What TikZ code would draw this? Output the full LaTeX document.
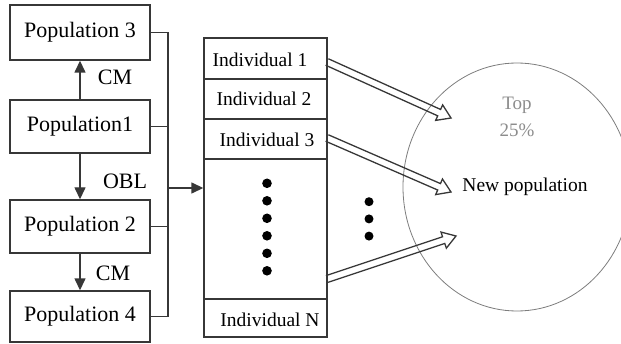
\documentclass[tikz,border=0pt]{standalone}
\usepackage{fontspec}
\setmainfont{Liberation Serif}
\usetikzlibrary{arrows.meta,calc}
\definecolor{ln}{RGB}{55,55,55}
\definecolor{gr}{RGB}{140,140,140}
\definecolor{el}{RGB}{125,125,125}
\newcommand\hollowarr[2]{%
  \draw[harr] let \p1=($(#2)-(#1)$), \n1={atan2(\y1,\x1)}, \n2={veclen(\x1,\y1)-13} in
    ($(#1)+(\n1+90:3.5)$) -- ++(\n1:\n2) -- ++(\n1+90:5) -- (#2)
    -- ($(#2)+(\n1+180:13)+(\n1-90:8.5)$) -- ++(\n1+90:5) -- ($(#1)+(\n1-90:3.5)$);}
\begin{document}
\begin{tikzpicture}[x=1pt,y=1pt,
  box/.style={draw=ln, line width=1.4pt, minimum width=140pt, inner sep=0pt, font=\fontsize{22}{25}\selectfont},
  cell/.style={draw=ln, line width=1.4pt, minimum width=123pt, inner sep=0pt},
  ctext/.style={font=\fontsize{19.5}{22}\selectfont, inner sep=0pt},
  lbl/.style={font=\fontsize{22}{25}\selectfont, inner sep=0pt},
  conn/.style={draw=ln, line width=1.4pt},
  tri/.style={-{Triangle[length=12pt,width=11pt]}},
  harr/.style={draw=ln, line width=1.3pt, line join=miter},
  bigdot/.style={fill=black}
]
\useasboundingbox (0,0) rectangle (621,343);
% left populations
\node[box, minimum height=55pt] (p3) at (80,310.5) {Population 3};
\node[box, minimum height=53pt] (p1) at (80,216.5) {Population1};
\node[box, minimum height=53pt] (p2) at (80,116.5) {Population 2};
\node[box, minimum height=51pt] (p4) at (80,26.5) {Population 4};
\draw[conn,tri] (p1.north) -- (p3.south);
\draw[conn,tri] (p1.south) -- (p2.north);
\draw[conn,tri] (p2.south) -- (p4.north);
\node[lbl] (cm1) at (115,266) {CM};
\node[lbl] (obl) at (125,162) {OBL};
\node[lbl] (cm2) at (113,70) {CM};
% bus
\coordinate (bx) at (168,0);
\draw[conn] (p3.east) -- (p3.east -| bx) -- (p4.east -| bx) -- (p4.east);
\draw[conn] (p1.east) -- (p1.east -| bx);
\draw[conn] (p2.east) -- (p2.east -| bx);
% individuals
\node[cell, minimum height=41pt] (c1) at (265.5,284.5) {};
\node[cell, minimum height=40pt] (c2) at (265.5,244) {};
\node[cell, minimum height=40pt] (c3) at (265.5,204) {};
\node[cell, minimum height=140pt] (dc) at (265.5,114) {};
\node[cell, minimum height=38pt] (cn) at (265.5,25) {};
\node[ctext] (t1) at (260,283) {Individual 1};
\node[ctext] (t2) at (264,244) {Individual 2};
\node[ctext] (t3) at (267,203) {Individual 3};
\node[ctext] (tn) at (270,23) {Individual N};
\coordinate (bm) at (168,155);
\draw[conn,tri] (bm) -- (bm -| dc.west);
\foreach \i in {0,...,5} \fill[bigdot] (267,159.7-17.5*\i) circle (4.8);
\foreach \i in {0,...,2} \fill[bigdot] (369,141.3-17.2*\i) circle (4.5);
% new population
\coordinate (ec) at (517,156);
\draw[el, line width=0.8pt] (ec) ellipse [x radius=114, y radius=124];
\node[font=\fontsize{19}{21}\selectfont, text=gr] (top) at (517,238) {Top};
\node[font=\fontsize{19}{21}\selectfont, text=gr] (pct) at (517,213) {25\%};
\node[font=\fontsize{19.5}{22}\selectfont] (np) at (525,156) {New population};
% hollow arrows
\coordinate (s1) at (327,281);
\coordinate (e1) at (451,225);
\coordinate (s2) at (327,205);
\coordinate (e2) at (451,151);
\coordinate (s3) at (327,64);
\coordinate (e3) at (456,107);
\hollowarr{s1}{e1}
\hollowarr{s2}{e2}
\hollowarr{s3}{e3}
\end{tikzpicture}
\end{document}
